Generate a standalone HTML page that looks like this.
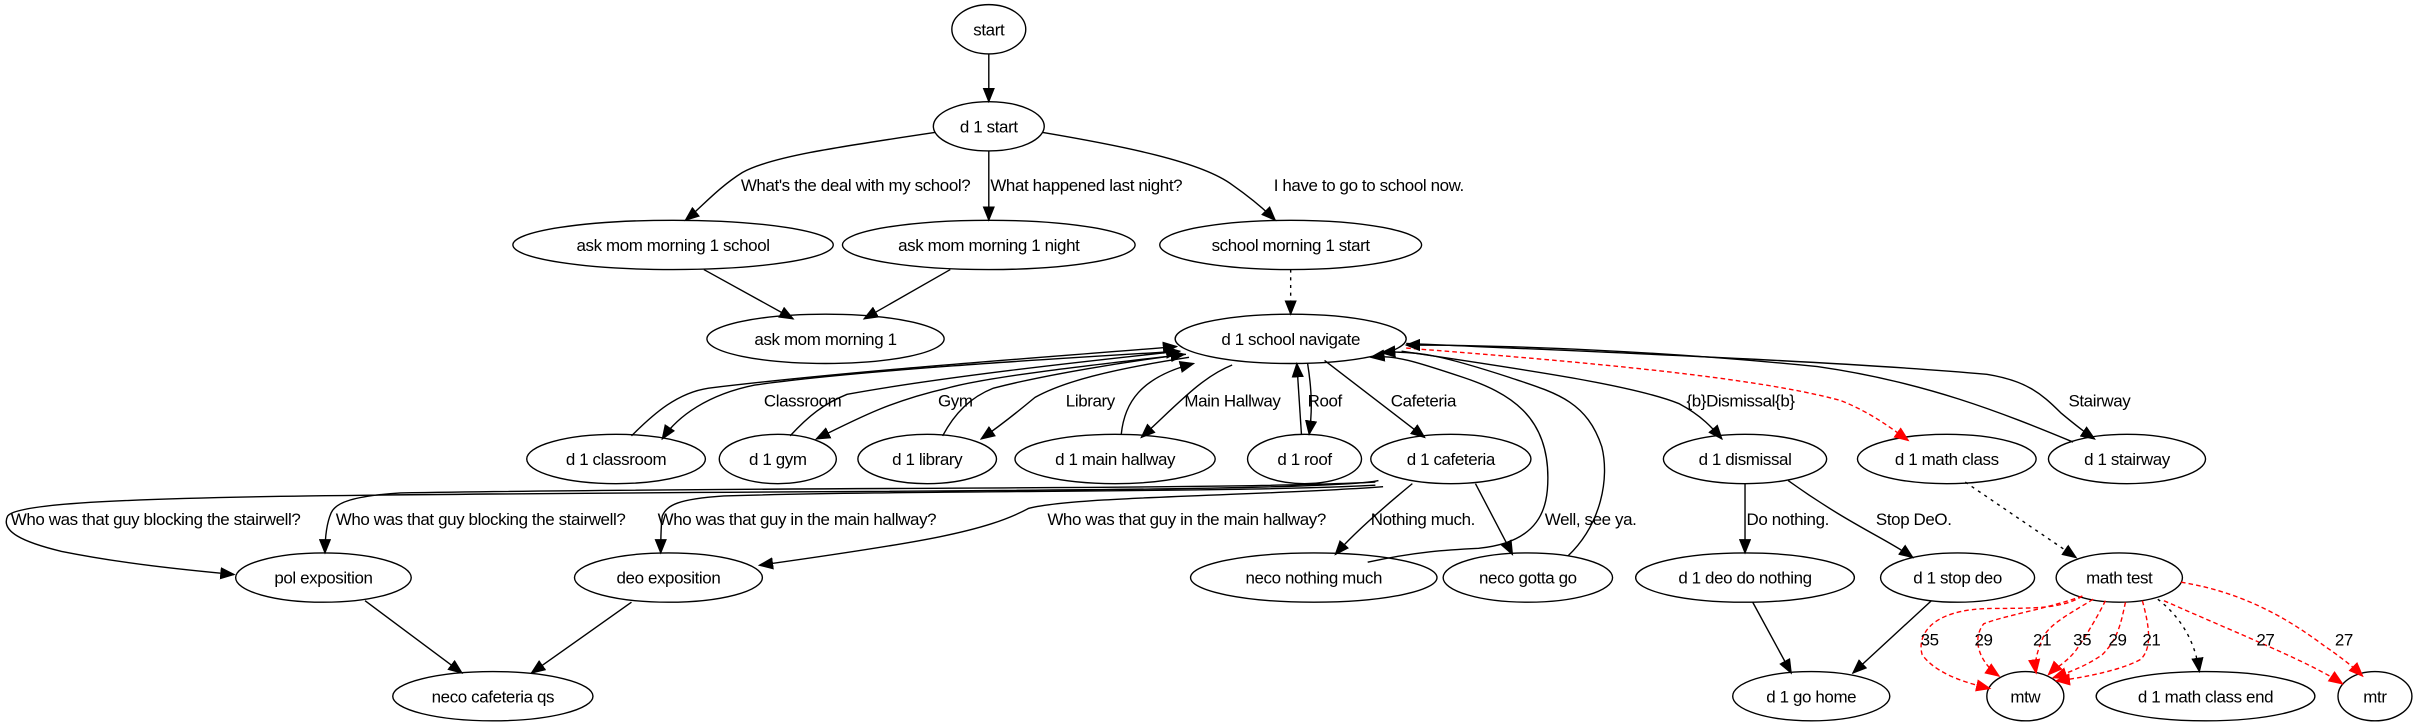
<!DOCTYPE html>
<html><head><meta charset="utf-8"><style>
html,body{margin:0;padding:0;background:#fff;}
svg{display:block;}
text{font-family:"Liberation Sans",sans-serif;font-size:11px;letter-spacing:-0.25px;fill:#000;}
</style></head><body>
<svg width="2415" height="727" viewBox="0 0 1568 472" preserveAspectRatio="none" xmlns="http://www.w3.org/2000/svg">
<defs>
<marker id="a" markerWidth="10" markerHeight="8" refX="9" refY="4" orient="auto" markerUnits="userSpaceOnUse"><path d="M0,0 L10,4 L0,8 z" fill="#000"/></marker>
<marker id="r" markerWidth="10" markerHeight="8" refX="9" refY="4" orient="auto" markerUnits="userSpaceOnUse"><path d="M0,0 L10,4 L0,8 z" fill="#f00"/></marker>
</defs>
<g fill="none" stroke="#000" stroke-width="0.9">
<ellipse cx="642" cy="19" rx="24" ry="16"/>
<ellipse cx="642" cy="82" rx="36" ry="16"/>
<ellipse cx="437" cy="159" rx="104" ry="16"/>
<ellipse cx="642" cy="159" rx="95" ry="16"/>
<ellipse cx="838" cy="159" rx="85" ry="16"/>
<ellipse cx="536" cy="220" rx="77" ry="16"/>
<ellipse cx="838" cy="220" rx="75" ry="16"/>
<ellipse cx="400" cy="298" rx="58" ry="16"/>
<ellipse cx="505" cy="298" rx="38" ry="16"/>
<ellipse cx="602" cy="298" rx="45" ry="16"/>
<ellipse cx="724" cy="298" rx="65" ry="16"/>
<ellipse cx="847" cy="298" rx="37" ry="16"/>
<ellipse cx="942" cy="298" rx="52" ry="16"/>
<ellipse cx="1133" cy="298" rx="53" ry="16"/>
<ellipse cx="1264" cy="298" rx="58" ry="16"/>
<ellipse cx="1381" cy="298" rx="51" ry="16"/>
<ellipse cx="210" cy="375" rx="57" ry="16"/>
<ellipse cx="434" cy="375" rx="61" ry="16"/>
<ellipse cx="853" cy="375" rx="80" ry="16"/>
<ellipse cx="992" cy="375" rx="55" ry="16"/>
<ellipse cx="1133" cy="375" rx="71" ry="16"/>
<ellipse cx="1271" cy="375" rx="50" ry="16"/>
<ellipse cx="1376" cy="375" rx="41" ry="16"/>
<ellipse cx="320" cy="452" rx="65" ry="16"/>
<ellipse cx="1176" cy="452" rx="51" ry="16"/>
<ellipse cx="1315" cy="452" rx="25" ry="16"/>
<ellipse cx="1432" cy="452" rx="71" ry="16"/>
<ellipse cx="1542" cy="452" rx="24" ry="16"/>

<path d="M642,35 L642,66" marker-end="url(#a)"/>
<path d="M607,86 C540,96 500,102 482,112 C466,122 455,135 445,143" marker-end="url(#a)"/>
<path d="M642,98 L642,143" marker-end="url(#a)"/>
<path d="M677,86 C730,95 780,105 800,120 C810,127 820,135 828,143" marker-end="url(#a)"/>
<path d="M457,175 L515,207" marker-end="url(#a)"/>
<path d="M617,175 L561,207" marker-end="url(#a)"/>
<path d="M838,175 L838,204" stroke-dasharray="2,3" marker-end="url(#a)"/>

<path d="M410,283 C425,268 440,255 460,252 C560,240 680,232 764,225" marker-end="url(#a)"/>
<path d="M766,228 C700,232 560,240 490,250 C460,256 440,270 430,285" marker-end="url(#a)"/>
<path d="M513,283 C525,270 535,262 550,256 C610,245 700,235 766,228" marker-end="url(#a)"/>
<path d="M770,230 C700,238 640,245 615,252 C580,260 560,270 530,285" marker-end="url(#a)"/>
<path d="M612,283 C620,268 630,258 645,252 C680,243 730,235 769,230" marker-end="url(#a)"/>
<path d="M772,232 C720,240 690,248 672,258 C660,268 650,276 637,285" marker-end="url(#a)"/>
<path d="M728,282 C730,262 740,245 775,236" marker-end="url(#a)"/>
<path d="M800,237 C780,245 765,262 741,284" marker-end="url(#a)"/>
<path d="M845,282 L842,236" marker-end="url(#a)"/>
<path d="M849,236 C852,255 852,268 850,282" marker-end="url(#a)"/>
<path d="M860,234 L925,284" marker-end="url(#a)"/>
<path d="M888,365 C920,358 940,357 960,356 C1000,352 1005,330 1005,310 C1005,270 980,255 950,245 C920,235 905,230 890,232" marker-end="url(#a)"/>
<path d="M1018,361 C1040,340 1045,310 1040,290 C1030,260 1010,255 980,245 C940,232 920,227 897,229" marker-end="url(#a)"/>
<path d="M910,228 C990,240 1060,250 1090,262 C1105,270 1112,278 1118,285" marker-end="url(#a)"/>
<path d="M913,226 C1030,235 1140,245 1195,260 C1215,268 1228,278 1239,286" stroke="#f00" stroke-dasharray="3,2" marker-end="url(#r)"/>
<path d="M1346,287 C1300,268 1250,248 1180,238 C1080,228 980,224 913,224" marker-end="url(#a)"/>
<path d="M913,223 C1050,229 1200,235 1290,243 C1315,247 1325,255 1338,268 C1350,278 1354,281 1360,285" marker-end="url(#a)"/>

<path d="M895,312 C860,320 500,318 200,322 C60,324 10,328 5,335 C0,345 15,352 40,358 C80,366 120,370 152,373" marker-end="url(#a)"/>
<path d="M893,313 C800,318 500,316 260,320 C230,322 218,326 215,333 C212,340 211,350 211,359" marker-end="url(#a)"/>
<path d="M893,315 C800,320 600,318 470,322 C440,324 433,328 430,335 C429,342 429,350 429,359" marker-end="url(#a)"/>
<path d="M898,316 C820,322 700,322 668,330 C640,345 600,352 493,367" marker-end="url(#a)"/>
<path d="M917,314 C900,328 880,345 867,360" marker-end="url(#a)"/>
<path d="M958,314 L982,360" marker-end="url(#a)"/>
<path d="M237,390 L300,437" marker-end="url(#a)"/>
<path d="M410,391 L345,437" marker-end="url(#a)"/>
<path d="M1133,314 L1133,359" marker-end="url(#a)"/>
<path d="M1161,312 C1200,340 1225,350 1242,362" marker-end="url(#a)"/>
<path d="M1276,313 L1348,362" stroke-dasharray="2,3" marker-end="url(#a)"/>
<path d="M1138,391 L1163,437" marker-end="url(#a)"/>
<path d="M1254,390 L1203,437" marker-end="url(#a)"/>
<path d="M1401,389 C1415,400 1425,415 1428,436" stroke-dasharray="2,3" marker-end="url(#a)"/>
</g>
<g fill="none" stroke="#f00" stroke-width="0.9" stroke-dasharray="3,2">
<path d="M1352,387 C1340,395 1320,395 1295,395 C1250,395 1245,415 1248,425 C1255,435 1270,442 1292,447" marker-end="url(#r)"/>
<path d="M1352,387 C1330,395 1300,400 1288,405 C1280,415 1285,430 1298,439" marker-end="url(#r)"/>
<path d="M1359,389 C1345,398 1330,405 1326,415 C1322,425 1321,430 1322,437" marker-end="url(#r)"/>
<path d="M1367,390 C1362,400 1355,412 1348,422 C1342,430 1334,434 1330,438" marker-end="url(#r)"/>
<path d="M1380,391 C1377,405 1375,415 1365,425 C1355,432 1345,436 1333,440" marker-end="url(#r)"/>
<path d="M1391,390 C1395,405 1398,420 1390,428 C1380,434 1355,440 1335,442" marker-end="url(#r)"/>
<path d="M1405,390 C1450,410 1500,430 1521,444" marker-end="url(#r)"/>
<path d="M1416,378 C1460,385 1490,405 1510,420 C1522,428 1530,435 1534,439" marker-end="url(#r)"/>
</g>

<g text-anchor="middle">
<text x="642" y="23">start</text>
<text x="642" y="86">d 1 start</text>
<text x="437" y="163">ask mom morning 1 school</text>
<text x="642" y="163">ask mom morning 1 night</text>
<text x="838" y="163">school morning 1 start</text>
<text x="536" y="224">ask mom morning 1</text>
<text x="838" y="224">d 1 school navigate</text>
<text x="400" y="302">d 1 classroom</text>
<text x="505" y="302">d 1 gym</text>
<text x="602" y="302">d 1 library</text>
<text x="724" y="302">d 1 main hallway</text>
<text x="847" y="302">d 1 roof</text>
<text x="942" y="302">d 1 cafeteria</text>
<text x="1133" y="302">d 1 dismissal</text>
<text x="1264" y="302">d 1 math class</text>
<text x="1381" y="302">d 1 stairway</text>
<text x="210" y="379">pol exposition</text>
<text x="434" y="379">deo exposition</text>
<text x="853" y="379">neco nothing much</text>
<text x="992" y="379">neco gotta go</text>
<text x="1133" y="379">d 1 deo do nothing</text>
<text x="1271" y="379">d 1 stop deo</text>
<text x="1376" y="379">math test</text>
<text x="320" y="456">neco cafeteria qs</text>
<text x="1176" y="456">d 1 go home</text>
<text x="1315" y="456">mtw</text>
<text x="1432" y="456">d 1 math class end</text>
<text x="1542" y="456">mtr</text>
</g>
<text x="481" y="124">What's the deal with my school?</text>
<text x="643" y="124">What happened last night?</text>
<text x="827" y="124">I have to go to school now.</text>
<text x="496" y="264">Classroom</text>
<text x="609" y="264">Gym</text>
<text x="692" y="264">Library</text>
<text x="769" y="264">Main Hallway</text>
<text x="849" y="264">Roof</text>
<text x="903" y="264">Cafeteria</text>
<text x="1095" y="264">{b}Dismissal{b}</text>
<text x="1343" y="264">Stairway</text>
<text x="7" y="341">Who was that guy blocking the stairwell?</text>
<text x="218" y="341">Who was that guy blocking the stairwell?</text>
<text x="427" y="341">Who was that guy in the main hallway?</text>
<text x="680" y="341">Who was that guy in the main hallway?</text>
<text x="890" y="341">Nothing much.</text>
<text x="1003" y="341">Well, see ya.</text>
<text x="1134" y="341">Do nothing.</text>
<text x="1218" y="341">Stop DeO.</text>
<text x="1247" y="419">35</text>
<text x="1282" y="419">29</text>
<text x="1320" y="419">21</text>
<text x="1346" y="419">35</text>
<text x="1369" y="419">29</text>
<text x="1391" y="419">21</text>
<text x="1465" y="419">27</text>
<text x="1516" y="419">27</text>
</svg>
</body></html>
